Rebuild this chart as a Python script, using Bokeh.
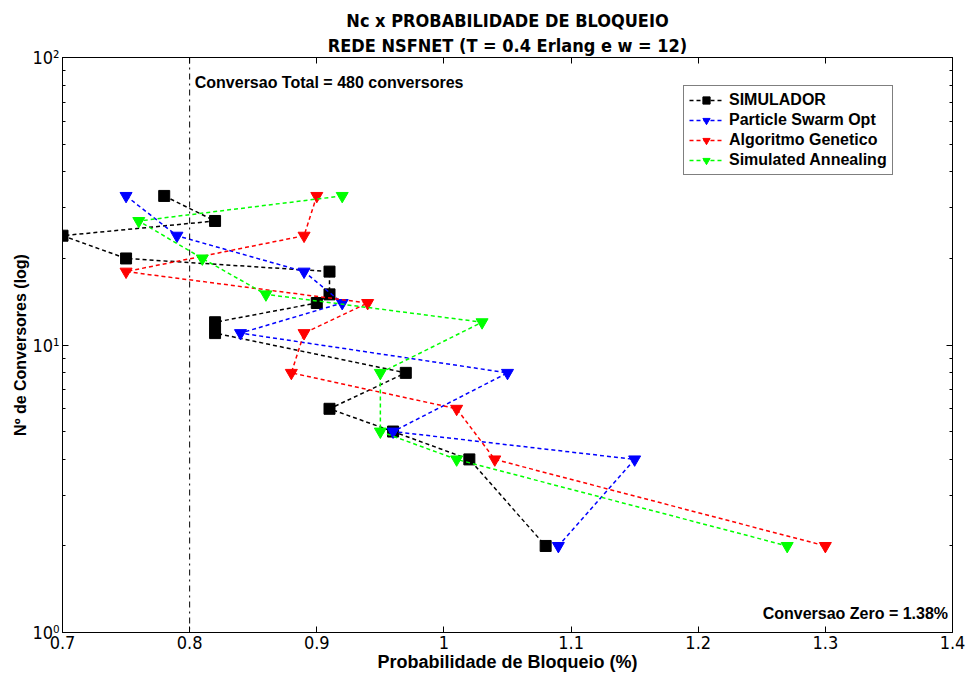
from bokeh.plotting import figure
from bokeh.models import (Span, Label, Legend, LegendItem, LinearAxis, LogAxis,
                          FixedTicker, Title, Range1d)
from bokeh.embed import file_html
from bokeh.resources import INLINE

# ---- data ----
sim_x = [0.78, 0.82, 0.70, 0.75, 0.91, 0.91, 0.90, 0.82, 0.82, 0.97, 0.91, 0.96, 1.02, 1.08]
sim_y = [33, 27, 24, 20, 18, 15, 14, 12, 11, 8, 6, 5, 4, 2]

pso_x = [0.75, 0.79, 0.89, 0.92, 0.84, 1.05, 0.96, 1.15, 1.09]
pso_y = [33, 24, 18, 14, 11, 8, 5, 4, 2]

ag_x = [0.90, 0.89, 0.75, 0.94, 0.89, 0.88, 1.01, 1.04, 1.30]
ag_y = [33, 24, 18, 14, 11, 8, 6, 4, 2]

sa_x = [0.92, 0.76, 0.81, 0.86, 1.03, 0.95, 0.95, 1.01, 1.27]
sa_y = [33, 27, 20, 15, 12, 8, 5, 4, 2]

x_ticks = [0.7, 0.8, 0.9, 1.0, 1.1, 1.2, 1.3, 1.4]
x_tick_labels = ["0.7", "0.8", "0.9", "1", "1.1", "1.2", "1.3", "1.4"]
y_ticks = [1, 10, 100]
y_tick_labels = ["10\u2070", "10\u00b9", "10\u00b2"]
y_minor = [2, 3, 4, 5, 6, 7, 8, 9, 20, 30, 40, 50, 60, 70, 80, 90]

conv_total_x = 0.8

COND = "'DejaVu Sans Condensed', 'Liberation Sans Narrow', sans-serif"
SANS = "Liberation Sans"

p = figure(width=966, height=680, y_axis_type="log",
           x_range=Range1d(0.7, 1.4), y_range=Range1d(1, 100),
           output_backend="svg", toolbar_location=None,
           min_border_left=62, min_border_right=14, min_border_bottom=48,
           min_border_top=57)
p.title = None
p.xgrid.visible = False
p.ygrid.visible = False
p.outline_line_color = "black"
p.outline_line_width = 1
p.background_fill_color = "white"
p.border_fill_color = "white"

def style_axis(ax, labels=True):
    ax.major_tick_in = 6
    ax.major_tick_out = 0
    ax.minor_tick_in = 3
    ax.minor_tick_out = 0
    ax.axis_line_color = "black"
    ax.major_tick_line_color = "black"
    ax.minor_tick_line_color = "black"
    ax.major_label_text_font = COND
    ax.major_label_text_font_size = "18px"
    ax.major_label_text_color = "black"
    ax.axis_label_text_color = "black"
    if not labels:
        ax.major_label_text_font_size = "0px"
        ax.major_label_standoff = 0

xax = p.xaxis[0]
xax.ticker = FixedTicker(ticks=x_ticks)
xax.major_label_overrides = {t: l for t, l in zip(x_ticks, x_tick_labels)}
style_axis(xax)
xax.major_label_standoff = 3
xax.axis_label = "Probabilidade de Bloqueio (%)"
xax.axis_label_text_font = SANS
xax.axis_label_text_font_style = "bold"
xax.axis_label_text_font_size = "18px"
xax.axis_label_standoff = 0

yax = p.yaxis[0]
yax.ticker = FixedTicker(ticks=y_ticks, minor_ticks=y_minor)
yax.major_label_overrides = {t: l for t, l in zip(y_ticks, y_tick_labels)}
style_axis(yax)
yax.major_label_standoff = 3
yax.axis_label = "N\u00ba de Conversores (log)"
yax.axis_label_text_font = SANS
yax.axis_label_text_font_style = "bold"
yax.axis_label_text_font_size = "16px"
yax.axis_label_standoff = 0

top = LinearAxis(ticker=FixedTicker(ticks=x_ticks))
style_axis(top, labels=False)
top.major_label_overrides = {t: "" for t in x_ticks}
right = LogAxis(ticker=FixedTicker(ticks=y_ticks, minor_ticks=y_minor))
style_axis(right, labels=False)
right.major_label_overrides = {t: "" for t in y_ticks}
p.add_layout(right, "right")

series = [
    ("SIMULADOR", sim_x, sim_y, "black", "square"),
    ("Particle Swarm Opt", pso_x, pso_y, "#0000FF", "inverted_triangle"),
    ("Algoritmo Genetico", ag_x, ag_y, "#FF0000", "inverted_triangle"),
    ("Simulated Annealing", sa_x, sa_y, "#00FF00", "inverted_triangle"),
]
items = []
for name, xs, ys, col, mk in series:
    ln = p.line(xs, ys, line_color=col, line_width=1.5, line_dash="4 3")
    sc = p.scatter(xs, ys, marker=mk, size=11 if mk == "square" else 12,
                   fill_color=col, line_color=col)
    items.append(LegendItem(label=name, renderers=[ln, sc]))

p.add_layout(Span(location=conv_total_x, dimension="height", line_color="black",
                  line_dash="dashdot", line_width=1))

p.add_layout(Label(x=0.804, y=82, text="Conversao Total = 480 conversores",
                   text_font=SANS, text_font_style="bold", text_font_size="16px",
                   text_color="black", text_baseline="middle", text_align="left"))
p.add_layout(Label(x=1.3965, y=1.165, text="Conversao Zero = 1.38%",
                   text_font=SANS, text_font_style="bold", text_font_size="16px",
                   text_color="black", text_baseline="middle", text_align="right"))

legend = Legend(items=items, location=(621, 457))
legend.label_text_font = SANS
legend.label_text_font_style = "bold"
legend.label_text_font_size = "16px"
legend.label_text_color = "black"
legend.label_height = 18
legend.glyph_height = 18
legend.glyph_width = 34
legend.label_standoff = 6
legend.spacing = 2
legend.padding = 5
legend.margin = 0
legend.border_line_color = "black"
legend.border_line_width = 1
legend.background_fill_alpha = 1
p.add_layout(legend, "center")

p.add_layout(top, "above")
p.add_layout(Title(text="REDE NSFNET (T = 0.4 Erlang e w = 12)", align="center",
                   text_font=COND, text_font_size="18px", text_font_style="bold",
                   text_color="black", standoff=4),
             "above")
p.add_layout(Title(text="Nc x PROBABILIDADE DE BLOQUEIO", align="center",
                   text_font=COND, text_font_size="18px", text_font_style="bold",
                   text_color="black", standoff=0),
             "above")

open("out.html", "w").write(file_html(p, INLINE))
